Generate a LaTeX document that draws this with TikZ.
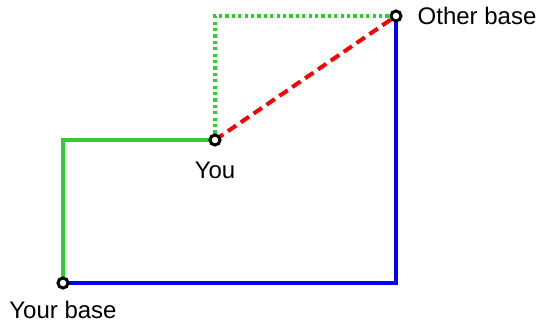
\documentclass[tikz,border=0pt]{standalone}
\usepackage{fontspec}
\setmainfont{Liberation Sans}
\usepackage{tikz}
\usetikzlibrary{positioning}
\definecolor{pathgreen}{RGB}{50,205,50}

\begin{document}
\begin{tikzpicture}[
  x=1pt, y=-1pt,
  font=\fontsize{24}{27}\selectfont,
  base/.style  = {circle, draw=black, fill=white, line width=3pt,
                  minimum size=10pt, inner sep=0pt},
  lbl/.style   = {inner sep=1pt},
  route/.style = {line width=3.4pt},
  walk/.style  = {route, draw=pathgreen},
  far/.style   = {route, draw=blue},
  alt/.style   = {route, draw=pathgreen, dash pattern=on 3.2pt off 3.2pt},
  direct/.style= {line width=4pt, draw=red, dash pattern=on 10pt off 5.6pt}
]
\useasboundingbox (0,0) rectangle (539,323);

%%%%%%%%%%%%%%%%%%%%%%% POINTS %%%%%%%%%%%%%%%%%%%%%%%%%%%%%%%%%
\coordinate (yb) at (63,283);
\coordinate (me) at (215,140);
\coordinate (ob) at (396,16);

%%%%%%%%%%%%%%%%%%%%%%% ROUTES %%%%%%%%%%%%%%%%%%%%%%%%%%%%%%%%%
\draw[walk]   (yb) |- (me);
\draw[far]    (yb) -| (ob);
\draw[alt]    (me) |- (ob);
\draw[direct] (me) -- (ob);

%%%%%%%%%%%%%%%%%%%%%%% MARKERS %%%%%%%%%%%%%%%%%%%%%%%%%%%%%%%%
\node[base] (yourbase)  at (yb) {};
\node[base] (you)       at (me) {};
\node[base] (otherbase) at (ob) {};

\node[lbl, below=10pt of yourbase] {Your base};
\node[lbl, below=14pt of you] {You};
\node[lbl, right=14pt of otherbase] {Other base};
\end{tikzpicture}
\end{document}
